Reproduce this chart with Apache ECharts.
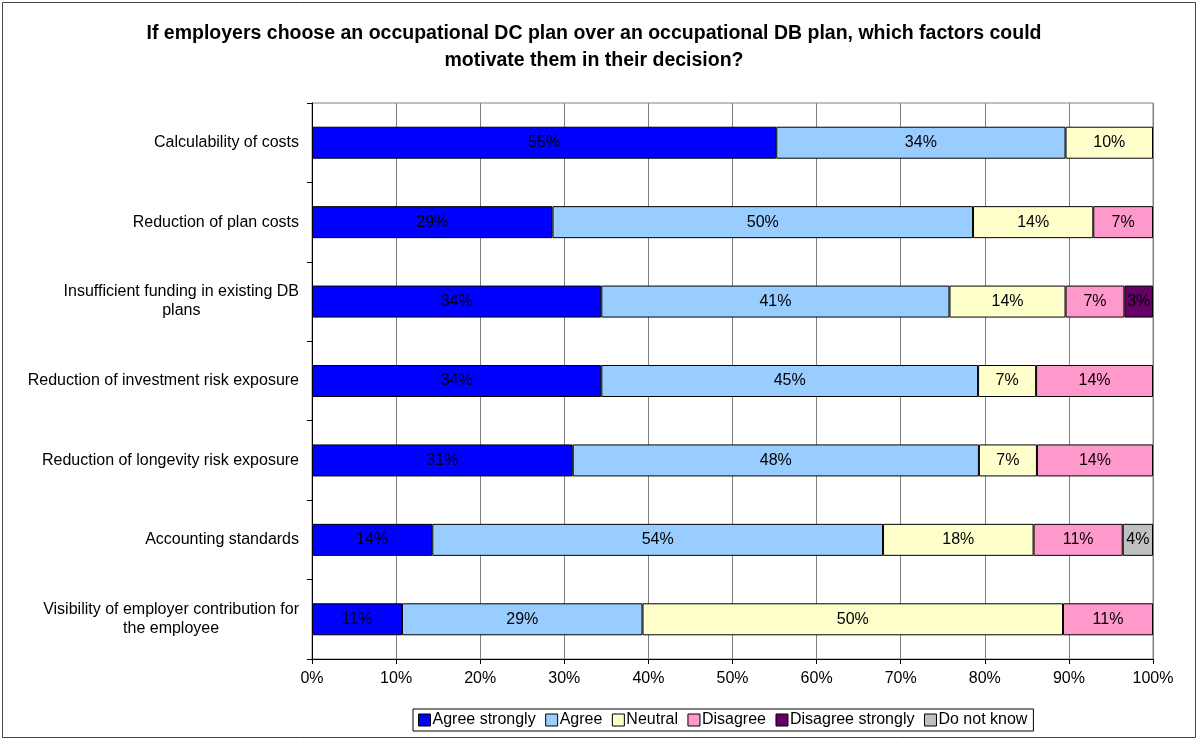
<!DOCTYPE html>
<html>
<head>
<meta charset="utf-8">
<script src="https://cdn.jsdelivr.net/npm/echarts@6/dist/echarts.min.js"></script>
<style>
  html, body { margin: 0; padding: 0; background: #fff; }
  #main { width: 1198px; height: 740px; }
</style>
</head>
<body>
<div id="main"></div>
<script>
var factors = [
  'Calculability of costs',
  'Reduction of plan costs',
  'Insufficient funding in existing DB\nplans',
  'Reduction of investment risk exposure',
  'Reduction of longevity risk exposure',
  'Accounting standards',
  'Visibility of employer contribution for\nthe employee'
];
var answers = ['Agree strongly', 'Agree', 'Neutral', 'Disagree', 'Disagree strongly', 'Do not know'];
var colors = ['#0000FF', '#99CCFF', '#FFFFCC', '#FF99CC', '#660066', '#C0C0C0'];

// share of answers per factor, in %
var agreeStrongly    = [55.2, 28.6, 34.4, 34.4, 31.0, 14.3, 10.7];
var agree            = [34.4, 50.0, 41.4, 44.8, 48.3, 53.6, 28.6];
var neutral          = [10.4, 14.3, 13.8,  6.9,  6.9, 17.9, 50.0];
var disagree         = [0,     7.1,  7.0, 13.9, 13.8, 10.6, 10.7];
var disagreeStrongly = [0,     0,    3.4,  0,    0,    0,    0];
var doNotKnow        = [0,     0,    0,    0,    0,    3.6,  0];
var seriesData = [agreeStrongly, agree, neutral, disagree, disagreeStrongly, doNotKnow];

var xTicks = [0, 10, 20, 30, 40, 50, 60, 70, 80, 90, 100];

var font = 'Arial, "Liberation Sans", sans-serif';

var chart = echarts.init(document.getElementById('main'));

var series = answers.map(function (name, i) {
  return {
    name: name,
    type: 'bar',
    stack: 'total',
    barWidth: 32,
    data: seriesData[i].map(function (v) { return v > 0 ? v : null; }),
    itemStyle: {
      color: colors[i],
      borderColor: '#000',
      borderWidth: 1
    },
    label: {
      show: true,
      position: 'inside',
      color: '#000',
      fontFamily: font,
      fontSize: 16,
      formatter: function (p) {
        return Math.round(p.value) + '%';
      }
    }
  };
});

var option = {
  backgroundColor: '#fff',
  animation: false,
  title: {
    text: 'If employers choose an occupational DC plan over an occupational DB plan, which factors could\nmotivate them in their decision?',
    left: 594,
    top: 20,
    padding: 0,
    textAlign: 'center',
    textStyle: {
      fontFamily: font,
      fontSize: 19.5,
      fontWeight: 'bold',
      color: '#000',
      lineHeight: 27
    }
  },
  legend: {
    data: answers,
    left: 413,
    top: 709,
    padding: [3, 6, 3, 5],
    borderColor: '#000',
    borderWidth: 1,
    itemWidth: 12,
    itemHeight: 12,
    itemGap: 9.5,
    icon: 'rect',
    itemStyle: { borderColor: '#000', borderWidth: 1 },
    textStyle: { fontFamily: font, fontSize: 16, color: '#000', padding: [0, 0, 0, -3] }
  },
  grid: {
    left: 312,
    right: 45,
    top: 103,
    bottom: 81,
    show: true,
    borderColor: '#808080',
    borderWidth: 1,
    backgroundColor: '#fff'
  },
  xAxis: {
    type: 'value',
    min: xTicks[0],
    max: xTicks[xTicks.length - 1],
    interval: 10,
    axisLine: { show: true, lineStyle: { color: '#000' } },
    axisTick: { show: true, length: 5, lineStyle: { color: '#000' } },
    splitLine: { show: true, lineStyle: { color: '#808080', width: 1 } },
    axisLabel: {
      color: '#000',
      fontFamily: font,
      fontSize: 16,
      margin: 12,
      formatter: '{value}%'
    }
  },
  yAxis: {
    type: 'category',
    data: factors,
    inverse: true,
    axisLine: { show: true, lineStyle: { color: '#000' } },
    axisTick: { show: true, length: 5, lineStyle: { color: '#000' } },
    splitLine: { show: false },
    axisLabel: {
      color: '#000',
      fontFamily: font,
      fontSize: 16,
      margin: 13,
      formatter: function (v) {
        return v.split('\n').map(function (l) { return '{c|' + l + '}'; }).join('\n');
      },
      rich: {
        c: { align: 'center', fontFamily: font, fontSize: 16, color: '#000', lineHeight: 19 }
      }
    }
  },
  graphic: [{
    type: 'rect',
    shape: { x: 2.5, y: 2.5, width: 1193, height: 735 },
    style: { fill: null, stroke: '#444', lineWidth: 1 },
    silent: true,
    z: 100
  }],
  series: series
};

chart.setOption(option);
</script>
</body>
</html>
